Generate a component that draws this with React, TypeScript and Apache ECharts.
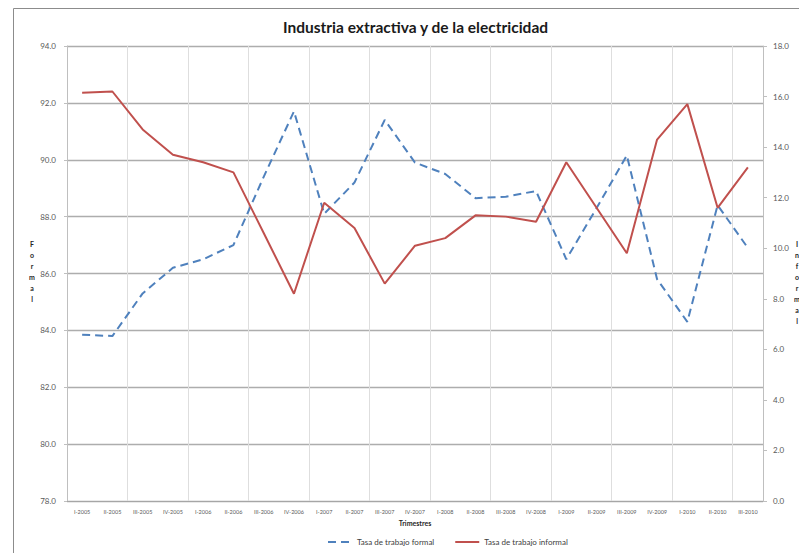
import React, { useEffect, useRef } from "react";
import * as echarts from "echarts";

// Quarters on the category axis
const categories = [
  "I-2005", "II-2005", "III-2005", "IV-2005",
  "I-2006", "II-2006", "III-2006", "IV-2006",
  "I-2007", "II-2007", "III-2007", "IV-2007",
  "I-2008", "II-2008", "III-2008", "IV-2008",
  "I-2009", "II-2009", "III-2009", "IV-2009",
  "I-2010", "II-2010", "III-2010",
];

// Formal employment rate (left axis)
const formalRate = [
  83.85, 83.8, 85.3, 86.2, 86.5, 87.0, 89.4, 91.7, 88.1, 89.2, 91.4, 89.9,
  89.5, 88.65, 88.7, 88.9, 86.5, 88.3, 90.15, 85.8, 84.3, 88.4, 86.9,
];

// Informal employment rate (right axis)
const informalRate = [
  16.15, 16.2, 14.7, 13.7, 13.4, 13.0, 10.6, 8.2, 11.8, 10.8, 8.6, 10.1,
  10.4, 11.3, 11.25, 11.05, 13.4, 11.6, 9.8, 14.3, 15.7, 11.6, 13.2,
];

const seriesNames = ["Tasa de trabajo formal", "Tasa de trabajo informal"];
const title = "Industria extractiva y de la electricidad";
const xAxisName = "Trimestres";
const leftAxisName = "Formal";
const rightAxisName = "Informal";

const FONT = "Lato, 'Open Sans', sans-serif";
const BLUE = "#4f81bd";
const RED = "#c0504d";

export default function App() {
  const ref = useRef<HTMLDivElement>(null);

  useEffect(() => {
    if (!ref.current) return;
    const chart = echarts.init(ref.current, undefined, { renderer: "svg" });
    const stacked = (s: string) => s.split("").join("\n");

    chart.setOption({
      animation: false,
      backgroundColor: "#ffffff",
      textStyle: { fontFamily: FONT },
      title: {
        text: title,
        left: 278,
        top: 14,
        textStyle: { fontSize: 15.5, fontWeight: "bold", color: "#1a1a1a", fontFamily: FONT },
      },
      grid: { left: 67, right: 36, top: 46, bottom: 52, containLabel: false },
      legend: {
        bottom: 2,
        left: 322,
        itemWidth: 24,
        itemHeight: 8,
        itemGap: 20,
        itemStyle: { opacity: 0 },
        textStyle: { fontSize: 8, color: "#404040", fontFamily: FONT },
        data: seriesNames,
      },
      xAxis: {
        type: "category",
        data: categories,
        boundaryGap: true,
        name: xAxisName,
        nameLocation: "middle",
        nameGap: 18,
        nameTextStyle: { fontSize: 7, fontWeight: "bold", color: "#262626", fontFamily: FONT },
        axisLine: { show: true, lineStyle: { color: "#a6a6a6", width: 1 } },
        axisTick: { show: false },
        axisLabel: { interval: 0, fontSize: 5.5, color: "#595959", margin: 8 },
        splitLine: { show: true, interval: 1, lineStyle: { color: "#dedede", width: 1 } },
      },
      yAxis: [
        {
          type: "value",
          min: 78,
          max: 94,
          interval: 2,
          position: "left",
          axisLine: { show: true, lineStyle: { color: "#bfbfbf" } },
          axisTick: { show: true, length: 3, lineStyle: { color: "#bfbfbf" } },
          axisLabel: {
            fontSize: 8,
            color: "#595959",
            margin: 11,
            formatter: (v: number) => v.toFixed(1),
          },
          splitLine: { show: true, lineStyle: { color: "#adadad", width: 1.4 } },
        },
        {
          type: "value",
          min: 0,
          max: 18,
          interval: 2,
          position: "right",
          axisLine: { show: true, lineStyle: { color: "#bfbfbf" } },
          axisTick: { show: true, length: 4, lineStyle: { color: "#bfbfbf" } },
          axisLabel: {
            fontSize: 8,
            color: "#595959",
            margin: 10,
            formatter: (v: number) => v.toFixed(1),
          },
          splitLine: { show: false },
        },
      ],
      series: [
        {
          name: seriesNames[0],
          type: "line",
          yAxisIndex: 0,
          data: formalRate,
          symbol: "none",
          lineStyle: { color: BLUE, width: 2, type: [8, 5] },
          itemStyle: { color: BLUE },
        },
        {
          name: seriesNames[1],
          type: "line",
          yAxisIndex: 1,
          data: informalRate,
          symbol: "none",
          lineStyle: { color: RED, width: 2 },
          itemStyle: { color: RED },
        },
      ],
      graphic: [
        {
          type: "rect",
          shape: { x: 13.5, y: 8.5, width: 820, height: 600 },
          style: { fill: "none", stroke: "#8c8c8c", lineWidth: 1 },
          silent: true,
        },
        {
          type: "text",
          x: 32,
          y: 238,
          style: {
            text: stacked(leftAxisName),
            fontSize: 7,
            fontWeight: "bold",
            lineHeight: 11,
            fill: "#262626",
            align: "center",
            fontFamily: FONT,
          },
        },
        {
          type: "text",
          x: 797,
          y: 238,
          style: {
            text: stacked(rightAxisName),
            fontSize: 7,
            fontWeight: "bold",
            lineHeight: 11,
            fill: "#262626",
            align: "center",
            fontFamily: FONT,
          },
        },
      ],
    });

    return () => chart.dispose();
  }, []);

  return (
    <div
      ref={ref}
      style={{ position: "fixed", left: 0, top: 0, width: 799, height: 553 }}
    />
  );
}
